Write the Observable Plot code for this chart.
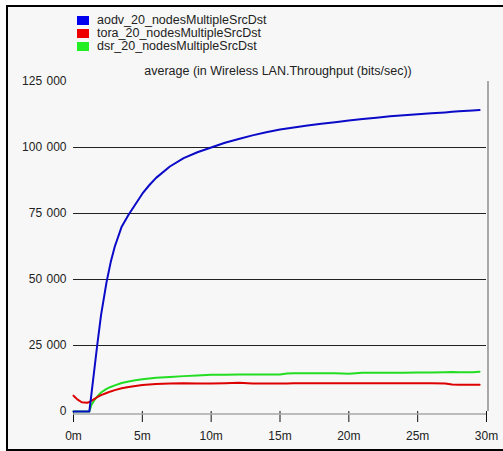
<!DOCTYPE html>
<html>
<head>
<meta charset="utf-8">
<script src="https://cdn.jsdelivr.net/npm/d3@7"></script>
<script src="https://cdn.jsdelivr.net/npm/@observablehq/plot@0.6"></script>
<style>
  html, body { margin: 0; padding: 0; background: #ffffff; }
  #wrap { position: relative; width: 503px; height: 451px; overflow: hidden; font-family: "Liberation Sans", Arial, sans-serif; }
  #frame { position: absolute; left: 6px; top: 5px; width: 510px; height: 442px; border-left: 2px solid #000; border-top: 2px solid #000; border-bottom: 2px solid #000; background: #f7f7f7; }
  #chart { position: absolute; left: 0; top: 0; }
  .leg { position: absolute; left: 77px; font-size: 12.5px; color: #222; line-height: 13px; height: 13px; }
  .leg span.sw { position: absolute; left: 0; top: 2px; width: 12px; height: 9px; }
  .leg span.tx { position: absolute; left: 20px; top: 0; white-space: nowrap; }
  #title { position: absolute; left: 0; width: 556px; text-align: center; top: 64px; font-size: 12.5px; color: #222; white-space: nowrap; }
</style>
</head>
<body>
<div id="wrap">
  <div id="frame"></div>
  <div id="chart"></div>
  <div id="legend"></div>
  <div id="title"></div>
</div>
<script>
const seriesNames = ["aodv_20_nodesMultipleSrcDst", "tora_20_nodesMultipleSrcDst", "dsr_20_nodesMultipleSrcDst"];
const legendColors = ["#0000ee", "#ee0000", "#22ee22"];
const lineColors = ["#0a0ac8", "#dd0000", "#22dd22"];
const titleText = "average (in Wireless LAN.Throughput (bits/sec))";

const timeMin = [0, 0.3, 0.6, 1.0, 1.15, 1.3, 1.5, 1.72, 2.0, 2.4, 2.7, 3.0, 3.5, 4.0, 4.5, 5, 5.5, 6, 7, 8, 9, 10, 11, 12, 13, 14, 15, 15.5, 16, 17, 18, 19, 20, 21, 22, 23, 24, 25, 26, 27, 27.5, 28, 29, 29.5];
const aodv = [0, 0, 0, 0, 0, 6500, 15300, 25000, 36500, 49000, 56500, 62500, 70000, 74500, 78500, 82500, 85700, 88500, 92800, 96000, 98200, 100000, 101800, 103200, 104600, 105800, 106800, 107200, 107600, 108300, 109000, 109600, 110200, 110800, 111300, 111800, 112200, 112600, 113000, 113300, 113500, 113700, 114000, 114200];
const tora = [6000, 4500, 3500, 3300, 3600, 4000, 4700, 5400, 6200, 7000, 7600, 8100, 8800, 9300, 9700, 10000, 10200, 10400, 10600, 10700, 10600, 10600, 10700, 10900, 10600, 10600, 10600, 10600, 10700, 10700, 10700, 10700, 10700, 10700, 10700, 10700, 10700, 10700, 10700, 10600, 10200, 10100, 10100, 10100];
const dsr = [0, 0, 0, 0, 0, 2500, 4200, 5600, 7200, 8600, 9300, 9900, 10800, 11400, 11800, 12200, 12500, 12800, 13100, 13400, 13600, 13900, 13900, 14000, 14000, 14000, 14000, 14400, 14500, 14500, 14500, 14500, 14300, 14650, 14700, 14700, 14700, 14800, 14800, 14900, 15000, 14900, 14900, 15100];

const yTicks = [0, 25000, 50000, 75000, 100000, 125000];
const gridValues = [25000, 50000, 75000, 100000];
const xTicks = [0, 5, 10, 15, 20, 25, 30];

const seriesValues = [aodv, tora, dsr];
const rows = [];
seriesValues.forEach((vals, si) => {
  vals.forEach((v, i) => rows.push({series: seriesNames[si], t: timeMin[i], v}));
});
const drawOrder = [2, 1, 0];

const fmt = v => d3.format(",")(v).replace(/,/g, " \u200A");

const chart = Plot.plot({
  width: 503,
  height: 451,
  marginLeft: 73,
  marginRight: 17,
  marginTop: 81,
  marginBottom: 40,
  style: {background: "transparent", fontFamily: "Liberation Sans, Arial, sans-serif", fontSize: "12px", color: "#222"},
  x: {domain: [0, 30]},
  y: {domain: [0, 125000]},
  marks: [
    Plot.ruleY(gridValues, {stroke: "#222", strokeWidth: 1}),
    Plot.ruleX([30], {stroke: "#a8a8a8", strokeWidth: 2, dx: 1.5}),
    Plot.axisY({ticks: yTicks, tickSize: 0, tickPadding: 7, tickFormat: fmt, fill: "#222", label: null}),
    Plot.axisX({ticks: xTicks, tickSize: 11, tickPadding: 9, tickFormat: d => d + "m", stroke: "#111", fill: "#222", label: null}),
    Plot.ruleY([0], {stroke: "#a8a8a8", strokeWidth: 1.5, dy: 2.5}),
    ...drawOrder.map(si => Plot.line(rows.filter(r => r.series === seriesNames[si]), {x: "t", y: "v", stroke: lineColors[si], strokeWidth: 2}))
  ]
});
document.getElementById("chart").appendChild(chart);

const legend = document.getElementById("legend");
seriesNames.forEach((name, i) => {
  const d = document.createElement("div");
  d.className = "leg";
  d.style.top = (14 + i * 13) + "px";
  d.innerHTML = `<span class="sw" style="background:${legendColors[i]}"></span><span class="tx">${name}</span>`;
  legend.appendChild(d);
});
document.getElementById("title").textContent = titleText;
</script>
</body>
</html>
